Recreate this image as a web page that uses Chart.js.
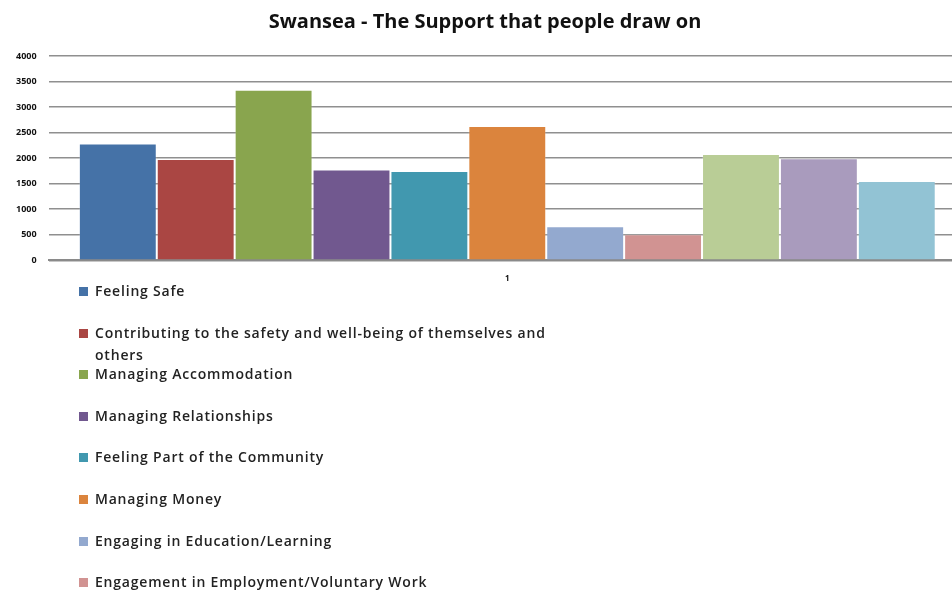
<!DOCTYPE html>
<html>
<head>
<meta charset="utf-8">
<script src="https://cdn.jsdelivr.net/npm/chart.js@4.4.1/dist/chart.umd.min.js"></script>
<style>
  body { margin: 0; overflow: hidden; background: #fff; width: 952px; height: 592px; position: relative; }
  #wrap { position: absolute; left: 0; top: 0; width: 966px; height: 290px; }
  #legend { position: absolute; left: 79px; top: 280px; list-style: none; margin: 0; padding: 0;
            font-family: "Open Sans", sans-serif; font-weight: 600; font-size: 14px; letter-spacing: 0.8px; color: #222; }
  #legend li { height: 41.6px; position: relative; padding-left: 16px; width: 470px; line-height: 22px; }
  #legend li span.box { position: absolute; left: 0; top: 7px; width: 9px; height: 9px; }
</style>
</head>
<body>
<div id="wrap"><canvas id="myChart" width="966" height="290"></canvas></div>
<ul id="legend"></ul>
<script>
// data
const categories = ["1"];
const seriesNames = [
  "Feeling Safe",
  "Contributing to the safety and well-being of themselves and others",
  "Managing Accommodation",
  "Managing Relationships",
  "Feeling Part of the Community",
  "Managing Money",
  "Engaging in Education/Learning",
  "Engagement in Employment/Voluntary Work",
  "Physically Healthy",
  "Mentally Healthy",
  "Leading a Healthy and Active Lifestyle"
];
const seriesValues = [2290, 1985, 3340, 1780, 1750, 2630, 670, 510, 2080, 2000, 1555];
const seriesColors = ["#4572A7", "#AA4643", "#89A54E", "#71588F", "#4198AF", "#DB843D",
                      "#93A9CF", "#D19392", "#B9CD96", "#A99BBD", "#92C3D4"];
const yMax = 4000;
const yStep = 500;

let datasets = [];
for (let i = 0; i < seriesNames.length; i++) {
  datasets.push({
    label: seriesNames[i],
    data: [seriesValues[i]],
    backgroundColor: seriesColors[i],
    borderColor: "rgba(255,255,255,0.2)",
    borderWidth: 1,
    categoryPercentage: 0.934,
    barPercentage: 1.0
  });
}

let ctx = document.getElementById("myChart").getContext("2d");
let myChart = new Chart(ctx, {
  type: "bar",
  data: { labels: categories, datasets: datasets },
  options: {
    responsive: false,
    animation: false,
    layout: { padding: { left: 4, right: 0, top: 0, bottom: 0 } },
    plugins: {
      legend: { display: false },
      tooltip: { enabled: false },
      title: {
        display: true,
        text: "Swansea - The Support that people draw on",
        color: "#111",
        font: { family: "Open Sans", size: 20, weight: "bold" },
        padding: { top: 10, bottom: 22 }
      }
    },
    scales: {
      x: {
        grid: { display: false },
        border: { color: "#8a8a8a", width: 2 },
        ticks: { color: "#111", font: { family: "Open Sans", size: 8, weight: "bold" }, padding: 6 }
      },
      y: {
        min: 0,
        max: yMax,
        ticks: {
          stepSize: yStep,
          color: "#111",
          padding: 12,
          font: { family: "Open Sans", size: 9, weight: "bold" },
          callback: function (v) { return String(v); }
        },
        grid: { color: "#8f8f8f", lineWidth: 1.6, drawTicks: false },
        border: { display: false }
      }
    }
  }
});

// legend as a plain list, one entry per row like the original
let legend = document.getElementById("legend");
myChart.data.datasets.forEach(function (ds) {
  let li = document.createElement("li");
  let box = document.createElement("span");
  box.className = "box";
  box.style.background = ds.backgroundColor;
  li.appendChild(box);
  li.appendChild(document.createTextNode(ds.label));
  legend.appendChild(li);
});
</script>
</body>
</html>
